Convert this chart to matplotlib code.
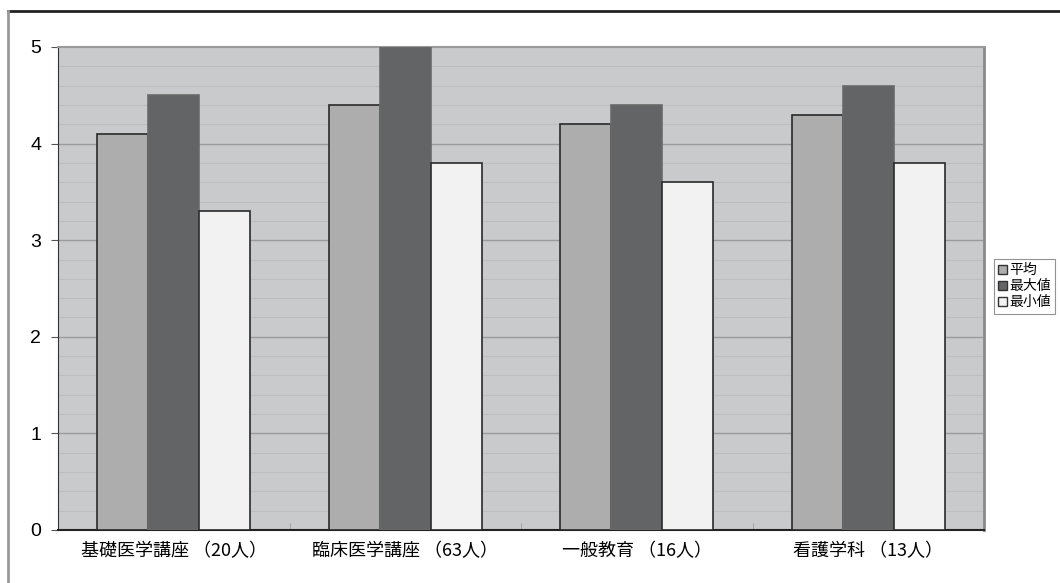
import numpy as np
import matplotlib.pyplot as plt
from matplotlib.lines import Line2D
from matplotlib.patches import Patch

plt.rcParams['font.family'] = ['Noto Sans CJK JP', 'DejaVu Sans']

categories = ['基礎医学講座 （20人）', '臨床医学講座 （63人）', '一般教育 （16人）', '看護学科 （13人）']
series = ['平均', '最大値', '最小値']
avg = [4.1, 4.4, 4.2, 4.3]
vmax = [4.5, 5.0, 4.4, 4.6]
vmin = [3.3, 3.8, 3.6, 3.8]

colors = ['#adadad', '#636466', '#f2f2f2']
edges = ['#2a2a2a', '#6a6a6a', '#2a2a2a']

fig = plt.figure(figsize=(10.6, 5.83), dpi=100)
ax = fig.add_axes([58/1060, 1 - 530/583, (984 - 58)/1060, (530 - 47)/583])
ax.set_facecolor('#c9cacc')

x = np.arange(len(categories))
w = 0.22
for i, vals in enumerate([avg, vmax, vmin]):
    ax.bar(x + (i - 1) * w, vals, w, color=colors[i], edgecolor=edges[i],
           linewidth=1.2, label=series[i], zorder=3)

# grid: minor every 0.2, major every 1
for v in np.arange(0.2, 5.0, 0.2):
    if abs(v - round(v)) < 1e-6:
        ax.axhline(v, color='#9a9a9a', lw=1.0, zorder=1)
    else:
        ax.axhline(v, color='#bdbec0', lw=0.8, zorder=1)

ax.set_xlim(-0.5, 3.5)
ax.set_ylim(0, 5)
ax.set_yticks(range(6))
ax.set_yticklabels([str(i) for i in range(6)], fontsize=14,
                   family=['Liberation Sans', 'DejaVu Sans'])
ax.set_xticks(x)
ax.set_xticklabels(categories, fontsize=13)
ax.tick_params(axis='x', length=0, pad=9)
ax.tick_params(axis='y', length=5, direction='out', color='#555555', pad=7)
ax.set_xticks(np.arange(0.5, 3.5, 1), minor=True)
ax.tick_params(axis='x', which='minor', length=5, direction='in', color='#999999')

ax.spines['left'].set_color('#333333')
ax.spines['bottom'].set_color('#222222')
ax.spines['bottom'].set_linewidth(1.5)
ax.spines['top'].set_color('#9a9a9a')
ax.spines['right'].set_color('#8a8a8a')
ax.spines['right'].set_linewidth(2)
ax.spines['top'].set_linewidth(1.5)

handles = [Patch(facecolor=colors[i], edgecolor='#333333', linewidth=1) for i in range(3)]
leg = fig.legend(handles, series, loc='upper left', bbox_to_anchor=(994/1060, 1 - 259/583),
                 fontsize=10, frameon=True, fancybox=False, handlelength=0.6, handleheight=0.6,
                 handletextpad=0.2, borderpad=0.3, labelspacing=0.15, borderaxespad=0)
leg.get_frame().set_edgecolor('#777777')
leg.get_frame().set_linewidth(0.8)

# outer frame
fig.add_artist(Line2D([8/1060, 1], [1 - 11/583, 1 - 11/583], color='#222222', lw=2))
fig.add_artist(Line2D([8/1060, 8/1060], [0, 1 - 11/583], color='#999999', lw=2))

fig.savefig('out.png', dpi=100)
